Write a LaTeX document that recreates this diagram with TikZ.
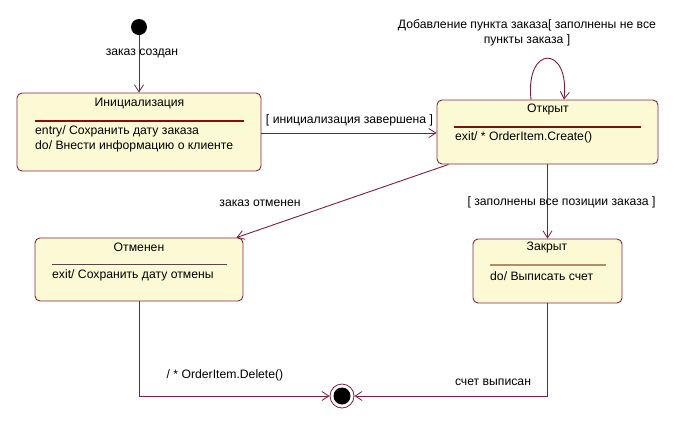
\documentclass[tikz,border=0pt]{standalone}
\usepackage{fontspec}
\setmainfont{Liberation Sans}
\usetikzlibrary{arrows.meta,calc}
\definecolor{stfill}{RGB}{252,250,212}
\definecolor{stborder}{RGB}{128,40,72}
\definecolor{conn}{RGB}{120,30,65}
\definecolor{sepred}{RGB}{128,16,16}
\definecolor{septan}{RGB}{176,144,96}
\definecolor{sepgray}{RGB}{90,70,70}
\tikzset{
  statebox/.style={draw=stborder, fill=stfill, line width=0.9pt, rounded corners=5pt, inner sep=0pt},
  lbl/.style={font=\fontsize{12.2}{14.5}\selectfont, inner sep=0pt, text=black},
  ltext/.style={lbl, anchor=west},
  conline/.style={draw=conn, line width=0.9pt},
  arr/.style={conline, -{Straight Barb[length=7pt,width=9pt,line width=0.8pt]}},
}
\begin{document}
\begin{tikzpicture}[x=1pt,y=-1pt]
\useasboundingbox (0,0) rectangle (688,440);
% states
\node[statebox, minimum width=244pt, minimum height=78pt] (init) at (139,132) {};
\node[statebox, minimum width=221pt, minimum height=64pt] (open) at (547.5,132) {};
\node[statebox, minimum width=208pt, minimum height=63pt] (cancel) at (139,269.5) {};
\node[statebox, minimum width=149pt, minimum height=64pt] (closed) at (547.5,271) {};
% initial and final
\node[circle, fill=black, minimum size=16pt, inner sep=0pt] (start) at (139,27) {};
\node[circle, draw=conn, fill=white, line width=0.8pt, minimum size=24pt, inner sep=0pt] (final) at (342,396) {};
\node[circle, fill=black, minimum size=17pt, inner sep=0pt] (finaldot) at (final.center) {};
% Init contents
\node[lbl] (initt) at (139.5,104) {Инициализация};
\draw[sepred, line width=1.6pt] (35,121) -- (244,121);
\node[ltext] (init1) at (35,131) {entry/ Сохранить дату заказа};
\node[ltext] (init2) at (35,146) {do/ Внести информацию о клиенте};
% Open contents
\node[lbl] (opent) at (548,110) {Открыт};
\draw[sepred, line width=1.6pt] (454,127) -- (641,127);
\node[ltext] (open1) at (455,137) {exit/ * OrderItem.Create()};
% Cancelled contents
\node[lbl] (cancelt) at (139,247) {Отменен};
\draw[sepgray, line width=0.7pt] (52,264) -- (227,264);
\node[ltext] (cancel1) at (52,275) {exit/ Сохранить дату отмены};
% Closed contents
\node[lbl] (closedt) at (547,248) {Закрыт};
\draw[septan, line width=1.1pt] (490,265) -- (606,265);
\node[ltext] (closed1) at (490,276) {do/ Выписать счет};
% transitions
\draw[arr] (start) -- (init);
\node[lbl] (l1) at (142,53) {заказ создан};
\draw[arr] (init.east |- 0,133) -- (open.west |- 0,133);
\node[lbl] (l2) at (349.5,120) {[ инициализация завершена ]};
\coordinate (loopa) at ($(open.north)+(-16.5,0)$);
\coordinate (loopb) at ($(open.north)+(16.5,0)$);
\draw[arr] (loopa) .. controls ($(loopa)+(-6,-55)$) and ($(loopb)+(6,-55)$) .. (loopb);
\node[lbl, align=center] (l3) at (527,33) {Добавление пункта заказа[ заполнены не все\\пункты заказа ]};
\coordinate (oc1) at ($(open.south west)+(12,0)$);
\coordinate (oc2) at ($(cancel.north east)+(-7,0)$);
\draw[arr] (oc1) -- (oc2);
\node[lbl] (l4) at (260,203) {заказ отменен};
\draw[arr] (open) -- (closed);
\node[lbl] (l5) at (561.5,202) {[ заполнены все позиции заказа ]};
\draw[arr] (cancel) |- (final);
\node[lbl] (l6) at (225,375) {/ * OrderItem.Delete()};
\draw[arr] (closed) |- (final);
\node[lbl] (l7) at (493,382) {счет выписан};
\end{tikzpicture}
\end{document}
